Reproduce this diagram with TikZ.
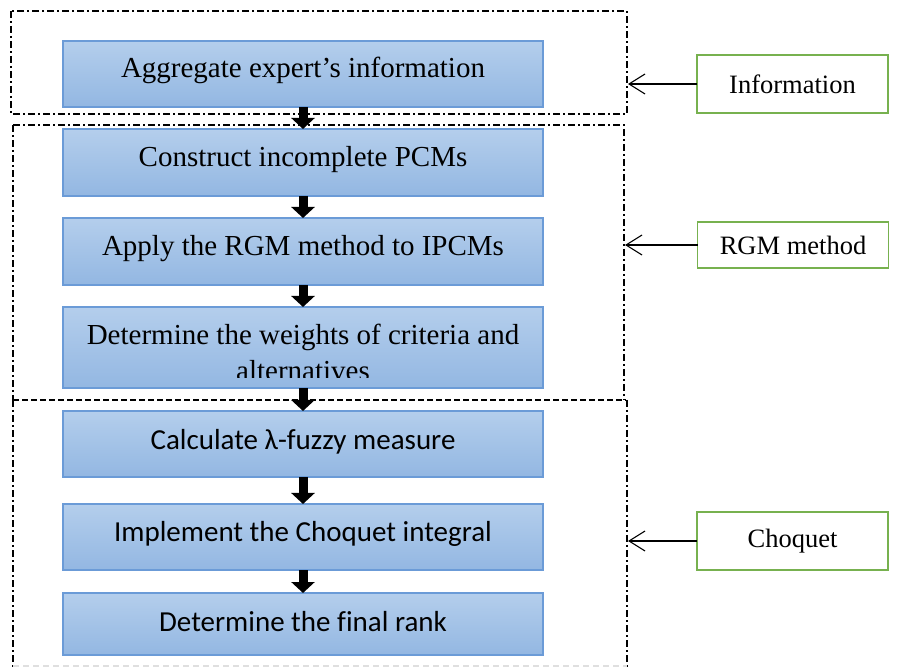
\documentclass[tikz,border=0pt]{standalone}
\usepackage{fontspec}
\setmainfont{Liberation Serif}
\newfontfamily\calib[Ligatures=NoCommon]{Carlito}
\usetikzlibrary{arrows.meta}
\definecolor{boxtop}{HTML}{B4CEEC}
\definecolor{boxbot}{HTML}{93B7E2}
\definecolor{boxline}{HTML}{6B9BD7}
\definecolor{lblgreen}{HTML}{77B14F}
\tikzset{
  stage/.style={draw=boxline, line width=1.2pt, top color=boxtop, bottom color=boxbot,
    minimum width=480pt, inner sep=0pt, outer sep=0pt},
  stagetext/.style={anchor=base, font=\fontsize{29}{36}\selectfont, inner sep=0pt},
  stagecal/.style={anchor=base, font=\calib\fontsize{29}{36}\selectfont, inner sep=0pt},
  bigarrow/.style={line width=9pt, -{Triangle[width=23pt,length=11pt]}},
  region/.style={line width=1.9pt, dash pattern=on 7pt off 3pt on 2pt off 3pt},
  regiondash/.style={line width=1.9pt, dash pattern=on 6pt off 3pt},
  lbl/.style={draw=lblgreen, line width=1.8pt, fill=white, minimum width=191pt,
    inner sep=0pt, outer sep=0pt, font=\fontsize{26.5}{30}\selectfont},
  lblarrow/.style={line width=1.1pt, -{Straight Barb[length=16pt,width=20pt]}}
}
\begin{document}
\begin{tikzpicture}[x=1pt,y=-1pt]
\useasboundingbox (0,0) rectangle (898,668);

% regions
\draw[region] (11,11) rectangle (627,114);
\draw[region] (13,125) -- (624,125) -- (624,400);
\draw[region] (13,125) -- (13,400);
\draw[regiondash] (13,400) -- (626,400);
\draw[region] (13,400) -- (13,668);
\draw[region] (627,400) -- (627,668);
\draw[gray!25, line width=1.2pt, dash pattern=on 6pt off 4pt] (13,666) -- (627,666);

% stages
\node[stage, minimum height=66pt] (b1) at (303,74) {};
\node[stage, minimum height=67pt] (b2) at (303,162.5) {};
\node[stage, minimum height=67pt] (b3) at (303,251.5) {};
\node[stage, minimum height=81pt] (b4) at (303,347.5) {};
\node[stage, minimum height=66pt] (b5) at (303,444) {};
\node[stage, minimum height=66pt] (b6) at (303,537) {};
\node[stage, minimum height=62pt] (b7) at (303,624) {};

\node[stagetext] (t1) at (303,78) {Aggregate expert’s information};
\node[stagetext] (t2) at (303,167) {Construct incomplete PCMs};
\node[stagetext] (t3) at (303,256) {Apply the RGM method to IPCMs};
\begin{scope}
  \clip (b4.north west) rectangle ([yshift=10pt]b4.south east);
  \node[stagetext] (t4a) at (303,345) {Determine the weights of criteria and};
  \node[stagetext] (t4b) at (303,381) {alternatives};
\end{scope}
\node[stagecal] (t5) at (303,450) {Calculate λ-fuzzy measure};
\node[stagecal] (t6) at (303,542) {Implement the Choquet integral};
\node[stagecal] (t7) at (303,631) {Determine the final rank};

% flow arrows
\draw[bigarrow] (b1.south) -- (b2.north);
\draw[bigarrow] (b2.south) -- (b3.north);
\draw[bigarrow] (b3.south) -- (b4.north);
\draw[bigarrow] (b4.south) -- (b5.north);
\draw[bigarrow] (b5.south) -- (b6.north);
\draw[bigarrow] (b6.south) -- (b7.north);

% labels
\node[lbl, minimum height=58pt] (l1) at (792.5,84) {Information};
\node[lbl, minimum height=46pt] (l2) at (793,245) {RGM method};
\node[lbl, minimum height=58pt] (l3) at (792.5,541) {Choquet};
\coordinate (r1) at (628,0);
\coordinate (r2) at (625,0);
\coordinate (r3) at (628,0);
\draw[lblarrow] (l1.west) -- (l1.west -| r1);
\draw[lblarrow] (l2.west) -- (l2.west -| r2);
\draw[lblarrow] (l3.west) -- (l3.west -| r3);
\end{tikzpicture}
\end{document}
